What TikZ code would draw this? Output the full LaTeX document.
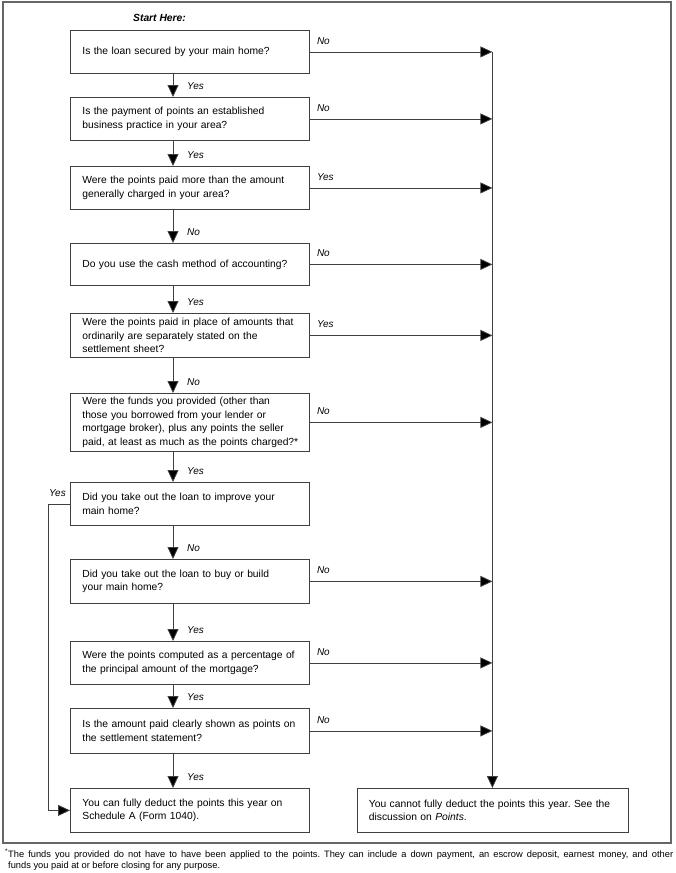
\documentclass[tikz,border=0pt]{standalone}
\usepackage{fontspec}
\setmainfont{Liberation Sans}
\usetikzlibrary{arrows.meta,calc}
\frenchspacing
\begin{document}
\frenchspacing
\begin{tikzpicture}[x=1pt,y=-1pt,
  qbox/.style={draw=black!75, line width=0.8pt, anchor=north west, text width=#1, inner xsep=12pt, inner ysep=0pt, align=left, font=\fontsize{10.3}{13.5}\selectfont},
  qbox/.default=215pt,
  arr/.style={draw=black!75, line width=0.8pt, -{Triangle[length=12pt,width=11pt,fill=black]}},
  ln/.style={draw=black!75, line width=0.8pt},
  lbl/.style={font=\fontsize{10}{12}\selectfont\itshape, inner sep=0pt, anchor=west},
  lblr/.style={font=\fontsize{10}{12}\selectfont\itshape, inner sep=0pt, anchor=east}]
\useasboundingbox (0,0) rectangle (675,873);
\draw[black!60, line width=1.2pt] (3,2) rectangle (671,843);

\node[font=\fontsize{10.3}{12}\selectfont\bfseries\itshape, anchor=west, inner sep=0pt] (start) at (133,18) {Start Here:};

\node[qbox, minimum height=43pt] (b1) at (70,30) {Is the loan secured by your main home?};
\node[qbox, minimum height=43pt] (b2) at (70,97) {Is the payment of points an established\\business practice in your area?};
\node[qbox, minimum height=43pt] (b3) at (70,166) {Were the points paid more than the amount\\generally charged in your area?};
\node[qbox, minimum height=42pt] (b4) at (70,243) {Do you use the cash method of accounting?};
\node[qbox, minimum height=44pt] (b5) at (70,313) {Were the points paid in place of amounts that\\ordinarily are separately stated on the\\settlement sheet?};
\node[qbox, minimum height=58pt] (b6) at (70,393) {Were the funds you provided (other than\\those you borrowed from your lender or\\mortgage broker), plus any points the seller\\\makebox[215pt][l]{paid, at least as much as the points charged?*}};
\node[qbox, minimum height=43pt] (b7) at (70,482) {Did you take out the loan to improve your\\main home?};
\node[qbox, minimum height=44pt] (b8) at (70,559) {Did you take out the loan to buy or build\\your main home?};
\node[qbox, minimum height=43pt] (b9) at (70,641) {Were the points computed as a percentage of\\the principal amount of the mortgage?};
\node[qbox, minimum height=45pt] (b10) at (70,708) {Is the amount paid clearly shown as points on\\the settlement statement?};
\node[qbox, minimum height=44pt] (b11) at (70,788) {You can fully deduct the points this year on\\Schedule A (Form 1040).};
\node[qbox=247pt, minimum height=44pt] (b12) at (356.5,788) {You cannot fully deduct the points this year. See the\\discussion on \textit{Points}.};

\coordinate (cx) at (173,0);

% vertical "down" arrows
\foreach \a/\b/\t in {b1/b2/Yes, b2/b3/Yes, b3/b4/No, b4/b5/Yes, b5/b6/No, b6/b7/Yes, b7/b8/No, b8/b9/Yes, b9/b10/Yes, b10/b11/Yes}{
  \draw[arr] (\a.south -| cx) -- (\b.north -| cx);
  \node[lbl] (l\a) at ($(\b.north -| cx)+(14,-11)$) {\t};
}

% right arrows
\foreach \a/\t in {b1/No, b2/No, b3/Yes, b4/No, b5/Yes, b6/No, b8/No, b9/No, b10/No}{
  \draw[arr] (\a.east) -- (\a.east -| b12.north);
  \node[lbl] (r\a) at ($(\a.east)+(7,-11)$) {\t};
}

% collector line
\draw[arr] (b1.east -| b12.north) -- (b12.north);

% left loop
\coordinate (lx) at (48,0);
\draw[arr] (b7.west) -- (b7.west -| lx) -- (b11.west -| lx) -- (b11.west);
\node[lblr] (ly) at ($(b7.west)+(-4,-11)$) {Yes};

% footnote
\node[anchor=north west, inner sep=0pt, text width=668pt, align=justify, font=\fontsize{9.3}{11}\selectfont] (fn) at (5,849)
{\frenchspacing\hyphenpenalty=10000\textsuperscript{*}The funds you provided do not have to have been applied to the points. They can include a down payment, an escrow deposit, earnest money, and other\linebreak\hspace*{3pt}funds you paid at or before closing for any purpose.};
\end{tikzpicture}
\end{document}
